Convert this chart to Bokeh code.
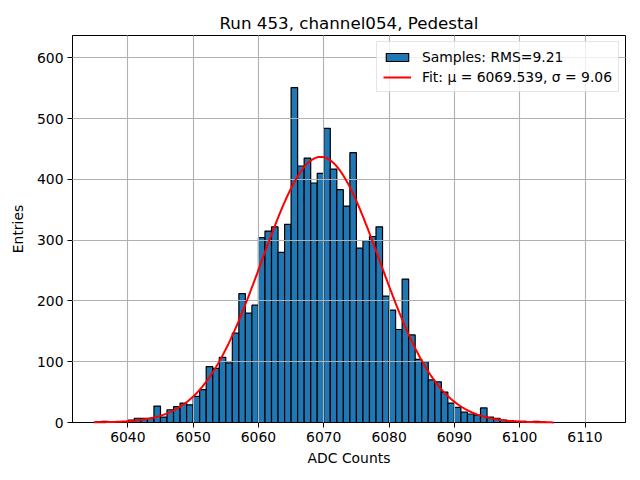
import numpy as np
from bokeh.plotting import figure
from bokeh.models import Range1d, FixedTicker, Legend, LegendItem, ColumnDataSource
from bokeh.embed import file_html
from bokeh.resources import INLINE

# ---- data ----
bin_left = list(range(6035, 6105))
counts = [
    1, 2, 1, 0, 1,                       # 6035-6039
    4, 7, 7, 7, 27, 9, 21, 26, 32, 29,   # 6040-6049
    43, 54, 92, 89, 107, 98, 147, 212, 180, 193,   # 6050-6059
    304, 315, 322, 280, 326, 551, 422, 435, 394, 410,  # 6060-6069
    484, 417, 383, 356, 444, 287, 299, 306, 322, 208,  # 6070-6079
    185, 153, 236, 144, 104, 100, 70, 67, 50, 32,      # 6080-6089
    25, 17, 14, 12, 24, 9, 7, 4, 3, 2,                 # 6090-6099
    2, 1, 2, 1, 0,                                     # 6100-6104
]
bin_width = 1

fit_mu = 6069.539
fit_sigma = 9.06
fit_peak = 437
fit_x_min = 6034.8
fit_x_max = 6105.2

title_text = "Run 453, channel054, Pedestal"
x_label = "ADC Counts"
y_label = "Entries"
x_ticks = [6040, 6050, 6060, 6070, 6080, 6090, 6100, 6110]
y_ticks = [0, 100, 200, 300, 400, 500, 600]
legend_hist = "Samples: RMS=9.21"
legend_fit = "Fit: \u03bc = 6069.539, \u03c3 = 9.06"

FONT = "DejaVu Sans"
TICK_FS = "13.9px"

p = figure(width=640, height=480, output_backend="svg", toolbar_location=None,
           x_range=Range1d(6031.53, 6116.2), y_range=Range1d(0, 636.7),
           min_border_left=72, min_border_right=15, min_border_top=35,
           min_border_bottom=58)

p.title.text = title_text
p.title.align = "center"
p.title.text_font = FONT
p.title.text_font_size = "16.7px"
p.title.text_font_style = "normal"
p.title.text_color = "black"
p.title.standoff = 6

p.background_fill_color = "white"
p.border_fill_color = "white"
p.outline_line_color = "black"
p.outline_line_width = 1
p.outline_line_alpha = 1

src = ColumnDataSource(dict(
    left=bin_left,
    right=[b + bin_width for b in bin_left],
    top=counts,
    bottom=[0] * len(counts),
))
hist_r = p.quad(left="left", right="right", top="top", bottom="bottom", source=src,
                fill_color="#1f77b4", line_color="black", line_width=1.2)

xs = np.linspace(fit_x_min, fit_x_max, 400)
ys = fit_peak * np.exp(-0.5 * ((xs - fit_mu) / fit_sigma) ** 2)
fit_r = p.line(xs, ys, line_color="red", line_width=2)
fit_r.level = "annotation"

for ax, ticks in ((p.xaxis, x_ticks), (p.yaxis, y_ticks)):
    ax.ticker = FixedTicker(ticks=ticks)
    ax.major_label_text_font = FONT
    ax.major_label_text_font_size = TICK_FS
    ax.major_label_text_color = "black"
    ax.axis_label_text_font = FONT
    ax.axis_label_text_font_size = TICK_FS
    ax.axis_label_text_font_style = "normal"
    ax.axis_label_text_color = "black"
    ax.major_tick_out = 5
    ax.major_tick_in = 0
    ax.minor_tick_out = 0
    ax.minor_tick_in = 0
    ax.axis_line_color = "black"
    ax.major_tick_line_color = "black"
    ax.major_label_standoff = 4

p.xaxis.axis_label = x_label
p.yaxis.axis_label = y_label
p.xaxis.axis_label_standoff = 5
p.yaxis.axis_label_standoff = 8

for g in (p.xgrid, p.ygrid):
    g.grid_line_color = "#b0b0b0"
    g.grid_line_width = 1.1
    g.level = "guide"
p.xgrid.ticker = FixedTicker(ticks=x_ticks)
p.ygrid.ticker = FixedTicker(ticks=y_ticks)

legend = Legend(items=[LegendItem(label=legend_hist, renderers=[hist_r]),
                       LegendItem(label=legend_fit, renderers=[fit_r])],
                location="top_right")
legend.label_text_font = FONT
legend.label_text_font_size = TICK_FS
legend.label_text_color = "black"
legend.border_line_color = "#cccccc"
legend.border_line_width = 1
legend.background_fill_color = "white"
legend.background_fill_alpha = 0.8
legend.padding = 6
legend.margin = 6
legend.spacing = 3
legend.glyph_width = 28
legend.glyph_height = 10
legend.label_height = 17
legend.label_standoff = 11
p.add_layout(legend)

open("out.html", "w").write(file_html(p, INLINE))
